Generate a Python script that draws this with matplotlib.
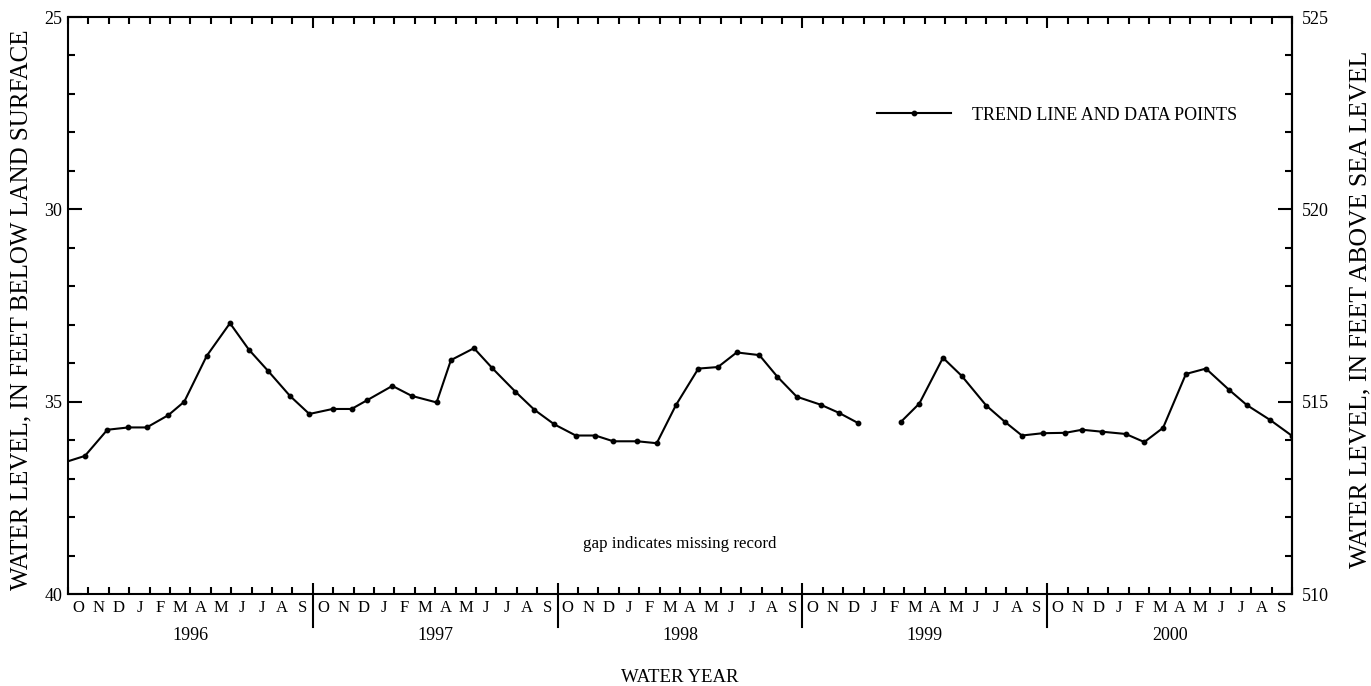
import matplotlib
matplotlib.use('Agg')
import matplotlib.pyplot as plt
import matplotlib.transforms as mtransforms
import numpy as np

plt.rcParams['font.family'] = ['Liberation Serif', 'DejaVu Serif']

# posicion en meses desde el 1 de octubre de 1995, y nivel en pies bajo la superficie
meses_a = [-0.3, 0.83, 1.93, 2.96, 3.86, 4.92, 5.7, 6.8, 7.94, 8.87, 9.79, 10.88,
           11.83, 12.97, 13.9, 14.67, 15.9, 16.85, 18.07, 18.77, 19.9, 20.8,
           21.93, 22.86, 23.84, 24.89, 25.85, 26.73, 27.91, 28.86, 29.8, 30.9,
           31.86, 32.78, 33.89, 34.77, 35.72, 36.9, 37.79, 38.71]
nivel_a = [36.6, 36.41, 35.73, 35.67, 35.67, 35.35, 35.0, 33.81, 32.96, 33.65,
           34.19, 34.85, 35.32, 35.19, 35.19, 34.96, 34.59, 34.85, 35.02, 33.92,
           33.61, 34.13, 34.74, 35.21, 35.59, 35.88, 35.88, 36.03, 36.03, 36.08,
           35.09, 34.14, 34.10, 33.72, 33.79, 34.35, 34.87, 35.08, 35.29, 35.55]
# despues del hueco (registro faltante)
meses_b = [40.82, 41.73, 42.89, 43.81, 45.01, 45.94, 46.76, 47.78, 48.89, 49.71,
           50.67, 51.85, 52.76, 53.68, 54.8, 55.78, 56.91, 57.79, 58.94, 59.98]
nivel_b = [35.53, 35.05, 33.86, 34.33, 35.10, 35.53, 35.88, 35.82, 35.81, 35.73,
           35.78, 35.84, 36.05, 35.68, 34.28, 34.14, 34.69, 35.09, 35.48, 35.88]

letras_mes = ['O', 'N', 'D', 'J', 'F', 'M', 'A', 'M', 'J', 'J', 'A', 'S']
anios = ['1996', '1997', '1998', '1999', '2000']
cota_superficie = 550

fig = plt.figure(figsize=(13.71, 6.86), dpi=100)
ax = fig.add_axes([68/1371, 1 - 594/686, (1292 - 68)/1371, (594 - 17)/686])

estilo = dict(color='black', lw=1.5, marker='o', ms=3.2, clip_on=True)
ax.plot(meses_a, nivel_a, label='TREND LINE AND DATA POINTS', **estilo)
ax.plot(meses_b, nivel_b, **estilo)

n = 12 * len(anios)
ax.set_xlim(0, n)
ax.set_ylim(40, 25)

for s in ax.spines.values():
    s.set_linewidth(1.5)

# eje x: ticks de anio (mayores) y de mes (menores)
ax.set_xticks(np.arange(12, n, 12))
ax.set_xticks(np.arange(0, n + 1), minor=True)
ax.tick_params(axis='x', which='major', direction='in', length=8, width=1.5,
               top=True, labelbottom=False)
ax.tick_params(axis='x', which='minor', direction='in', length=5, width=1.5,
               top=True)

trans = mtransforms.blended_transform_factory(ax.transData, ax.transAxes)
for k in range(1, len(anios)):
    ax.plot([12 * k, 12 * k], [0, -33 / 577], transform=trans, color='black',
            lw=1.5, clip_on=False)
for k, anio in enumerate(anios):
    for m, letra in enumerate(letras_mes):
        ax.text(12 * k + m + 0.5, -14 / 577, letra, transform=trans,
                ha='center', va='center', fontsize=12)
    ax.text(12 * k + 6, -42 / 577, anio, transform=trans, ha='center',
            va='center', fontsize=13)

# eje y izquierdo
ax.set_yticks([25, 30, 35, 40])
ax.set_yticks(np.arange(25, 41), minor=True)
ax.tick_params(axis='y', which='major', direction='in', length=10, width=1.5,
               labelsize=13, pad=4)
ax.tick_params(axis='y', which='minor', direction='in', length=5, width=1.5)

# eje y derecho (cota sobre el nivel del mar)
ax2 = ax.secondary_yaxis('right', functions=(lambda d: cota_superficie - d,
                                             lambda e: cota_superficie - e))
ax2.set_yticks([510, 515, 520, 525])
ax2.set_yticks(np.arange(510, 526), minor=True)
ax2.tick_params(axis='y', which='major', direction='in', length=10, width=1.5,
                labelsize=13, pad=7)
ax2.tick_params(axis='y', which='minor', direction='in', length=5, width=1.5)
ax2.spines['right'].set_linewidth(1.5)

fig.text(21/1371, 1 - 310/686, 'WATER LEVEL, IN FEET BELOW LAND SURFACE',
         rotation=90, ha='center', va='center', fontsize=18)
fig.text(1360/1371, 1 - 309/686, 'WATER LEVEL, IN FEET ABOVE SEA LEVEL',
         rotation=90, ha='center', va='center', fontsize=18.5)

ax.text(0.5, -83 / 577, 'WATER YEAR', transform=ax.transAxes, ha='center',
        va='center', fontsize=13.5)
ax.text(30, 38.7, 'gap indicates missing record', ha='center', va='center',
        fontsize=12.2)

ax.legend(loc='center left', bbox_to_anchor=(877/1371, 1 - 115/686),
          bbox_transform=fig.transFigure, frameon=False, fontsize=13,
          handlelength=4.1, handletextpad=1.15, borderpad=0, borderaxespad=0,
          numpoints=1)

fig.savefig('out.png', dpi=100)
